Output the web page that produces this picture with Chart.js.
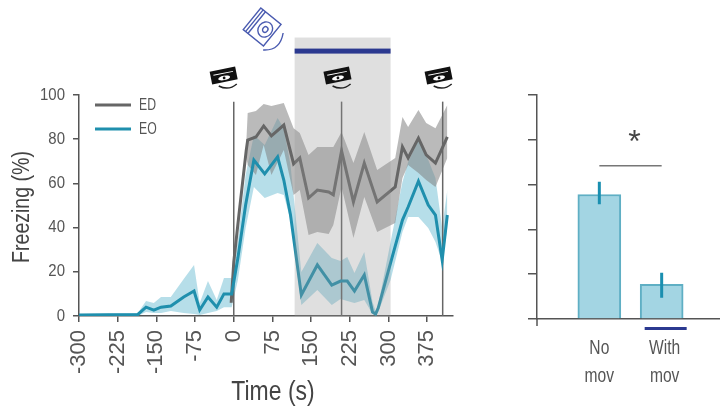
<!DOCTYPE html>
<html>
<head>
<meta charset="utf-8">
<title>Freezing</title>
<script src="https://cdn.jsdelivr.net/npm/chart.js@4"></script>
<style>
  html, body { margin: 0; padding: 0; background: #fff; overflow: hidden; width: 720px; height: 412px; }
  canvas { position: absolute; top: 0; }
  #timeChart { left: 0; }
  #barChart { left: 500px; }
</style>
</head>
<body>
<canvas id="timeChart" width="500" height="412"></canvas>
<canvas id="barChart" width="224" height="412"></canvas>
<script>
var sans = "'Liberation Sans',sans-serif";
var inkColor = '#555';

var seriesNames = ['ED', 'EO'];
var xTicks = [-300, -225, -150, -75, 0, 75, 150, 225, 300, 375];
var cueTimes = [0, 209, 405];
var cueIconShift = [-10, -4, -4];
var movieWindow = [118, 304];

var edTimes = [-5, 0, 10, 24, 27, 43, 58, 73, 97, 116, 128, 145, 162, 184, 193, 209, 232, 253, 278, 313, 327, 338, 358, 373, 391, 414];
var edMean = [6, 24.4, 45.7, 74.6, 79.6, 81, 86, 81.5, 86.4, 68.8, 71.5, 53.4, 57, 56.1, 54.8, 74.7, 51.6, 69.2, 51.6, 58.4, 76.5, 71.5, 80.5, 72.9, 69.2, 81];
var edUpper = [7, 26.2, 47, 77, 91.9, 92.8, 95.9, 95, 96.4, 85, 82.8, 72.9, 76.5, 76.5, 76.5, 83.3, 69.2, 83.3, 66.1, 71.5, 90, 85.5, 93.2, 87.3, 85, 95.5];
var edLower = [5, 22.6, 44, 72, 68.3, 63.8, 77.4, 63.8, 75.1, 54.8, 57, 36.7, 38, 37.1, 41.2, 58.4, 35.3, 53.8, 38, 42.1, 62.4, 68.3, 64.7, 61.5, 58.4, 71.5];

var eoTimes = [-300, -186, -170, -155, -141, -122, -97, -77, -66, -50, -33, -19, -4, 8, 23, 39, 60, 85, 97, 110, 131, 162, 190, 207, 220, 234, 253, 269, 275, 280, 304, 327, 338, 358, 377, 391, 404, 414];
var eoMean = [0.5, 0.7, 4, 2.7, 4, 4.5, 8.6, 11.3, 2.7, 8.6, 4, 10, 10, 26.2, 50.2, 70.6, 64.3, 72, 61.5, 45.7, 9.5, 23.1, 14, 15.8, 15.8, 11.3, 18.6, 1.8, 0.9, 3.6, 24, 43.4, 49.3, 61, 50.2, 45.7, 25.3, 45.7];
var eoUpper = [0.9, 1.4, 6.8, 5.9, 8.6, 8.6, 16.7, 23.1, 5.9, 15.8, 7.2, 17.2, 17.2, 34.4, 63.8, 81.9, 77.4, 89.6, 85, 68.3, 19.9, 33, 26.2, 24.9, 26.7, 19.5, 29, 6.3, 2.3, 5, 33.5, 60.6, 69.7, 79.6, 70.6, 62.4, 39.8, 57];
var eoLower = [0, 0, 1.8, 1.4, 1.4, 2.3, 1.4, 0.9, 0.5, 1.4, 2.3, 4, 4, 16.3, 39.8, 58.4, 53.4, 55.7, 54.8, 43.4, 5, 11.8, 5, 7.7, 6.8, 5.9, 7.2, 0.9, 0.2, 1.8, 16.3, 38, 44.8, 44.8, 39.8, 33.5, 24.4, 39.8];

var barLabels = ['No mov', 'With mov'];
var barValues = [55.6, 15.5];
var barErrLow = [51.2, 9.5];
var barErrHigh = [61.3, 20.7];
var sigLevel = 68.4;

function pts(times, vals) {
  return times.map(function (t, i) { return { x: t, y: vals[i] }; });
}

function band(times, vals, color, fill, order) {
  return { data: pts(times, vals), borderWidth: 0, borderColor: 'transparent', backgroundColor: color, fill: fill, pointRadius: 0, order: order };
}

function curve(times, vals, color, order) {
  return { data: pts(times, vals), borderColor: color, borderWidth: 3, borderJoinStyle: 'miter', pointRadius: 0, fill: false, order: order };
}

// no condensed font is installed, so the labels get squeezed by hand
function squeezed(ctx, text, x, y, sx, size, align, turned) {
  ctx.save();
  ctx.translate(x, y);
  if (turned) ctx.rotate(-Math.PI / 2);
  ctx.scale(sx, 1);
  ctx.font = size + 'px ' + sans;
  ctx.textAlign = align;
  ctx.textBaseline = 'middle';
  ctx.fillText(text, 0, 0);
  ctx.restore();
}

function drawCam(ctx, cx, cy) {
  ctx.save();
  ctx.translate(cx, cy);
  ctx.save();
  ctx.rotate(-0.2);
  ctx.fillStyle = '#111';
  ctx.fillRect(-13, -7, 26, 13);
  ctx.fillStyle = '#fff';
  ctx.fillRect(-10, -3.2, 20, 1);
  ctx.beginPath();
  ctx.ellipse(0, 2, 6, 2.2, 0, 0, Math.PI * 2);
  ctx.fill();
  ctx.fillStyle = '#111';
  ctx.beginPath();
  ctx.arc(0, 2, 1.4, 0, Math.PI * 2);
  ctx.fill();
  ctx.restore();
  ctx.strokeStyle = '#222';
  ctx.lineWidth = 1.5;
  ctx.beginPath();
  ctx.moveTo(-5, 10);
  ctx.quadraticCurveTo(5, 15, 13, 8);
  ctx.stroke();
  ctx.restore();
}

function drawDisc(ctx, cx, cy) {
  ctx.save();
  ctx.translate(cx, cy);
  ctx.strokeStyle = '#4a5bb0';
  ctx.lineWidth = 1.4;
  ctx.save();
  ctx.rotate(0.68);
  ctx.strokeRect(-13, -14, 26, 28);
  ctx.beginPath();
  ctx.moveTo(-7, -14); ctx.lineTo(-7, 14);
  ctx.moveTo(-10, -14); ctx.lineTo(-10, 14);
  ctx.stroke();
  ctx.beginPath();
  ctx.ellipse(4, 0, 7, 8, 0, 0, Math.PI * 2);
  ctx.stroke();
  ctx.beginPath();
  ctx.ellipse(4, 0, 2.5, 3, 0, 0, Math.PI * 2);
  ctx.stroke();
  ctx.restore();
  ctx.beginPath();
  ctx.moveTo(1, 23);
  ctx.quadraticCurveTo(18, 24, 21, 6);
  ctx.stroke();
  ctx.restore();
}

var timeDecor = {
  id: 'timeDecor',
  afterDatasetsDraw: function (chart) {
    var ctx = chart.ctx, x = chart.scales.x, y = chart.scales.y;
    var left = x.getPixelForValue(movieWindow[0]), right = x.getPixelForValue(movieWindow[1]);
    ctx.save();
    ctx.fillStyle = 'rgba(150,150,150,0.3)';
    ctx.fillRect(left, y.getPixelForValue(126), right - left, y.getPixelForValue(0) - y.getPixelForValue(126));
    ctx.fillStyle = '#2b3990';
    ctx.fillRect(left, y.getPixelForValue(121), right - left, 5);
    ctx.restore();
  },
  afterDraw: function (chart) {
    var ctx = chart.ctx, x = chart.scales.x, y = chart.scales.y;
    cueTimes.forEach(function (t, i) {
      drawCam(ctx, x.getPixelForValue(t) + cueIconShift[i], 76);
    });
    drawDisc(ctx, x.getPixelForValue(55), 27);

    ctx.save();
    ctx.fillStyle = inkColor;
    y.ticks.forEach(function (t) {
      squeezed(ctx, String(t.value), 65, y.getPixelForValue(t.value), 0.88, 17, 'right', false);
    });
    ctx.fillStyle = '#444';
    squeezed(ctx, 'Freezing (%)', 23, 207, 0.85, 23, 'center', true);
    squeezed(ctx, 'Time (s)', 273, 393, 0.85, 27, 'center', false);

    // legend
    ctx.lineWidth = 3;
    [['#666', 105], ['#1f8fad', 129]].forEach(function (row, i) {
      ctx.strokeStyle = row[0];
      ctx.beginPath();
      ctx.moveTo(95, row[1]);
      ctx.lineTo(131, row[1]);
      ctx.stroke();
      ctx.fillStyle = inkColor;
      squeezed(ctx, seriesNames[i], 139, row[1], 0.72, 17, 'left', false);
    });
    ctx.restore();
  }
};

new Chart(document.getElementById('timeChart'), {
  type: 'line',
  plugins: [timeDecor],
  data: {
    datasets: [
      band(eoTimes, eoUpper, 'rgba(110,190,212,0.5)', '+1', 7),
      band(eoTimes, eoLower, 'rgba(110,190,212,0.5)', false, 7),
      band(edTimes, edUpper, 'rgba(130,130,130,0.55)', '+1', 6),
      band(edTimes, edLower, 'rgba(130,130,130,0.55)', false, 6)
    ].concat(cueTimes.map(function (t) {
      return { data: [{ x: t, y: 0 }, { x: t, y: 97 }], borderColor: '#666', borderWidth: 1.5, pointRadius: 0, order: 3 };
    })).concat([
      curve(edTimes, edMean, '#666', 2),
      curve(eoTimes, eoMean, '#1f8fad', 1)
    ])
  },
  options: {
    responsive: false,
    animation: false,
    layout: { padding: { top: 95, right: 47, left: 0, bottom: 0 } },
    plugins: { legend: { display: false }, tooltip: { enabled: false } },
    scales: {
      x: {
        type: 'linear',
        min: -300,
        max: 425,
        afterFit: function (s) { s.height = 96; },
        afterBuildTicks: function (s) { s.ticks = xTicks.map(function (v) { return { value: v }; }); },
        border: { color: inkColor, width: 1.5 },
        grid: { drawOnChartArea: false, color: inkColor, tickLength: 6, lineWidth: 1.5 },
        ticks: { minRotation: 90, maxRotation: 90, padding: 8, color: inkColor, font: { family: sans, size: 22 } }
      },
      y: {
        min: 0,
        max: 100,
        afterFit: function (s) { s.width = 79; },
        border: { color: inkColor, width: 1.5 },
        grid: { drawOnChartArea: false, color: inkColor, tickLength: 6, lineWidth: 1.5 },
        ticks: { stepSize: 20, display: false }
      }
    }
  }
});

var barDecor = {
  id: 'barDecor',
  afterDraw: function (chart) {
    var ctx = chart.ctx, x = chart.scales.x, y = chart.scales.y;
    var noX = x.getPixelForValue(barLabels[0]), withX = x.getPixelForValue(barLabels[1]);
    var zero = y.getPixelForValue(0);
    ctx.save();
    ctx.strokeStyle = inkColor;
    ctx.lineWidth = 1.5;
    ctx.beginPath();
    ctx.moveTo(x.left, zero);
    ctx.lineTo(x.left, zero + 7);
    ctx.stroke();
    ctx.fillStyle = '#2b3990';
    ctx.fillRect(withX - 17, zero + 8, 42, 3);
    ctx.fillStyle = '#444';
    ctx.font = '32px ' + sans;
    ctx.textAlign = 'center';
    ctx.textBaseline = 'middle';
    ctx.fillText('*', (noX + withX) / 2 + 4, y.getPixelForValue(sigLevel + 10));
    ctx.fillStyle = inkColor;
    barLabels.forEach(function (label, i) {
      var words = label.split(' ');
      var at = i === 0 ? noX : withX + 3;
      squeezed(ctx, words[0], at, zero + 29, 0.78, 20, 'center', false);
      squeezed(ctx, words[1], at, zero + 57, 0.78, 20, 'center', false);
    });
    ctx.restore();
  }
};

function errLine(i) {
  return {
    type: 'line',
    data: [{ x: barLabels[i], y: barErrLow[i] }, { x: barLabels[i], y: barErrHigh[i] }],
    borderColor: '#1a8fb0',
    borderWidth: 3,
    pointRadius: 0,
    order: 1
  };
}

new Chart(document.getElementById('barChart'), {
  type: 'bar',
  plugins: [barDecor],
  data: {
    labels: [''].concat(barLabels).concat([' ']),
    datasets: [
      { data: [null].concat(barValues).concat([null]), backgroundColor: '#a3d5e3', borderColor: '#5fafc4', borderWidth: 2, barThickness: 43, order: 3 },
      errLine(0),
      errLine(1),
      {
        type: 'line',
        data: [{ x: barLabels[0], y: sigLevel }, { x: barLabels[1], y: sigLevel }],
        borderColor: '#777',
        borderWidth: 1.5,
        pointRadius: 0,
        order: 2
      }
    ]
  },
  options: {
    responsive: false,
    animation: false,
    layout: { padding: { top: 95, left: 0, right: 0, bottom: 0 } },
    plugins: { legend: { display: false }, tooltip: { enabled: false } },
    scales: {
      x: {
        offset: false,
        afterFit: function (s) { s.height = 93; },
        border: { color: inkColor, width: 1.5 },
        grid: { drawOnChartArea: false, drawTicks: false },
        ticks: { display: false }
      },
      y: {
        min: 0,
        max: 100,
        afterFit: function (s) { s.width = 37; },
        border: { color: inkColor, width: 1.5 },
        grid: { drawOnChartArea: false, color: inkColor, tickLength: 9, lineWidth: 1.5 },
        ticks: { stepSize: 20, display: false }
      }
    }
  }
});
</script>
</body>
</html>
